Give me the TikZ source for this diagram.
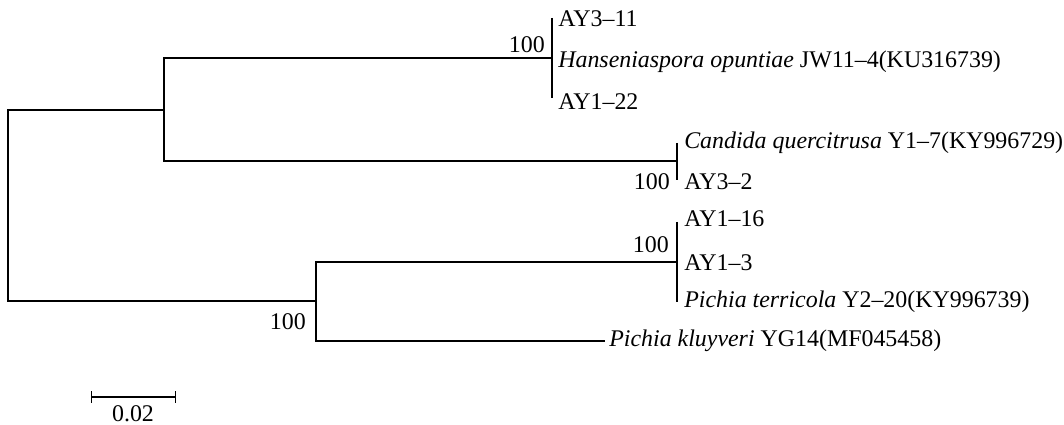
\documentclass[tikz,border=0pt]{standalone}
\usepackage{fontspec}
\setmainfont{Liberation Serif}
\usetikzlibrary{positioning,arrows.meta}

\begin{document}
\begin{tikzpicture}[x=0.025cm, y=-0.025cm, font=\fontsize{17}{19}\selectfont,
  branch/.style={draw=black, line width=0.9pt},
  leaf/.style={anchor=west, inner sep=0pt},
  boot/.style={anchor=east, inner sep=0pt}]
\useasboundingbox (0,0) rectangle (1064,425);
% internal nodes
\coordinate (root) at (8,205);
\coordinate (nA) at (164,110);
\coordinate (nB) at (316,301);
\coordinate (nH) at (552,58);
\coordinate (nC) at (677,161);
\coordinate (nP) at (677,262);
% clade ends
\coordinate (h1) at (552,18);
\coordinate (h3) at (552,98);
\coordinate (c1) at (677,143);
\coordinate (c2) at (677,180);
\coordinate (p1) at (677,222);
\coordinate (p3) at (677,302);
% leaves
\node[leaf] (AY311) at (558,19) {AY3--11};
\node[leaf] (Hop) at (558,62) {\textit{Hanseniaspora opuntiae} JW11--4(KU316739)};
\node[leaf] (AY122) at (558,102) {AY1--22};
\node[leaf] (Cqu) at (684,143) {\textit{Candida quercitrusa} Y1--7(KY996729)};
\node[leaf] (AY32) at (684,182) {AY3--2};
\node[leaf] (AY116) at (684,219) {AY1--16};
\node[leaf] (AY13) at (684,263) {AY1--3};
\node[leaf] (Pte) at (684,302) {\textit{Pichia terricola} Y2--20(KY996739)};
\node[leaf] (Pkl) at (609,341) {\textit{Pichia kluyveri} YG14(MF045458)};
% bootstrap values
\node[boot] (bH) at (545,45) {100};
\node[boot] (bC) at (670,182) {100};
\node[boot] (bP) at (669,245) {100};
\node[boot] (bB) at (306,322) {100};
% branches
\path[branch] (nA) -- (nA -| root) -- (nB -| root) -- (nB);
\path[branch] (nH) -- (nH -| nA) -- (nC -| nA) -- (nC);
\path[branch] (nP) -- (nP -| nB) -- (Pkl.west -| nB) -- ([xshift=-2.5pt]Pkl.west);
\path[branch] (h1) -- (h3);
\path[branch] (c1) -- (c2);
\path[branch] (p1) -- (p3);
% scale bar
\coordinate (s0) at (91,397);
\coordinate (s1) at (176,397);
\draw[branch, {Bar[width=8pt]}-{Bar[width=8pt]}] (s0) -- (s1);
\node[inner sep=0pt] (sc) at (133,414) {0.02};
\end{tikzpicture}
\end{document}
